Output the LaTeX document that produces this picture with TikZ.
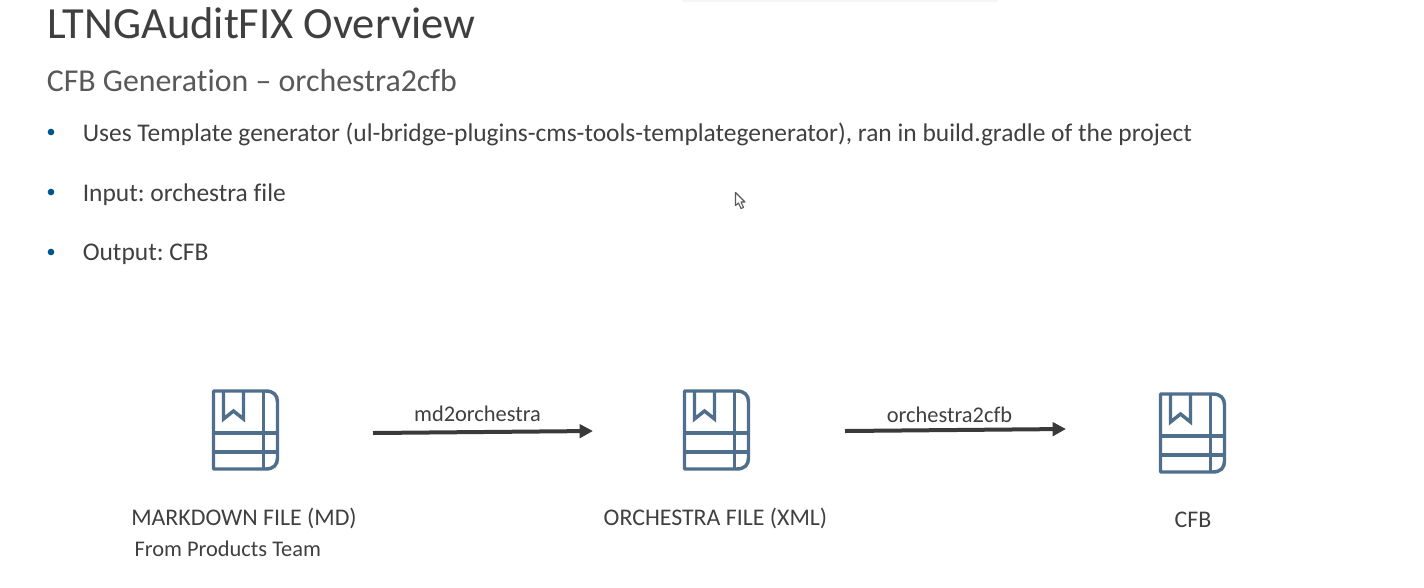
\documentclass[tikz,border=0pt]{standalone}
\usepackage{fontspec}
\setmainfont[Ligatures=CommonOff]{Carlito}
\frenchspacing
\usetikzlibrary{arrows.meta}
\definecolor{titlec}{HTML}{3F3F3F}
\definecolor{subc}{HTML}{595959}
\definecolor{bodyc}{HTML}{404040}
\definecolor{bulc}{HTML}{00558C}
\definecolor{iconc}{HTML}{4F6F8C}
\definecolor{arrc}{HTML}{3A3A3A}
\tikzset{
 x=0.75pt,y=-0.75pt,
 txt/.style={inner sep=0pt,anchor=base west,text=bodyc,font=\fontsize{19.1}{22}\selectfont},
 lab/.style={inner sep=0pt,anchor=base,text=bodyc,font=\fontsize{17.9}{22}\selectfont},
 small/.style={font=\fontsize{16.8}{20}\selectfont},
 bul/.style={circle,fill=bulc,draw=none,inner sep=0pt,minimum size=5pt},
 iconbox/.style={inner sep=0pt,minimum width=50.25pt,minimum height=60pt,draw=none},
 flow/.style={draw=arrc,line width=3pt,-{Triangle[length=10pt,width=10pt]},shorten >=0pt},
 pics/book/.style={code={
   \draw[iconc,line width=2.6pt,line join=round]
     (-32,-39) -- (20,-39) .. controls (28,-39) and (32,-35) .. (32,-28)
     -- (32,28) .. controls (32,35) and (28,39) .. (20,39) -- (-32,39) -- cycle;
   \draw[iconc,line width=2.6pt] (18,-39) -- (18,39);
   \draw[iconc,line width=2.6pt] (-32,3) -- (32,3) (-32,22) -- (32,22);
   \draw[iconc,line width=2.6pt,line join=miter] (-22,-39) -- (-22,-11) -- (-12,-19) -- (-2,-11) -- (-2,-39);
 }}
}
\begin{document}
\begin{tikzpicture}
\useasboundingbox (0,0) rectangle (1424,587);
\fill[white] (0,0) rectangle (1424,587);
\fill[black!4] (682,0) rectangle (998,2);
% header
\node[txt,text=titlec,font=\fontsize{33.4}{38}\selectfont] (title) at (47,38.7) {LTNGAuditFIX Overview};
\node[txt,text=subc,font=\fontsize{23.9}{28}\selectfont] (sub) at (46.5,91) {CFB Generation – orchestra2cfb};
% bullets
\node[bul] (b1) at (51,132) {};
\node[txt] (t1) at (82.5,141.8) {Uses Template generator (ul-bridge-plugins-cms-tools-templategenerator), ran in build.gradle of the project};
\node[bul] (b2) at (51,192) {};
\node[txt] (t2) at (82.5,201.8) {Input: orchestra file};
\node[bul] (b3) at (51,252) {};
\node[txt] (t3) at (82.5,260.8) {Output: CFB};
% cursor
\draw[fill=white,draw=black!65,line width=0.8pt,line join=round] (735.5,192.5) -- (735.5,205.5) -- (738.5,203) -- (741,208.5) -- (743.5,207.5) -- (741,202) -- (745,202) -- cycle;
% icons
\node[iconbox] (md) at (245.5,430) {};
\pic at (md.center) {book};
\node[iconbox] (orch) at (716.5,430) {};
\pic at (orch.center) {book};
\node[iconbox] (cfb) at (1192.5,433) {};
\pic at (cfb.center) {book};
% connector ends
\coordinate (a1s) at (373,433);
\coordinate (a1e) at (593,431);
\coordinate (a2s) at (845,431);
\coordinate (a2e) at (1066,429);
\draw[flow] (a1s) -- (a1e);
\draw[flow] (a2s) -- (a2e);
\node[lab,small] (l1) at (477.5,421.7) {md2orchestra};
\node[lab,small] (l2) at (949.5,422.7) {orchestra2cfb};
% captions
\node[lab] (c1) at (244,525.7) {MARKDOWN FILE (MD)};
\node[lab,small] (c1b) at (227.8,556.7) {From Products Team};
\node[lab] (c2) at (715.5,525.7) {ORCHESTRA FILE (XML)};
\node[lab] (c3) at (1193,527.7) {CFB};
\end{tikzpicture}
\end{document}
